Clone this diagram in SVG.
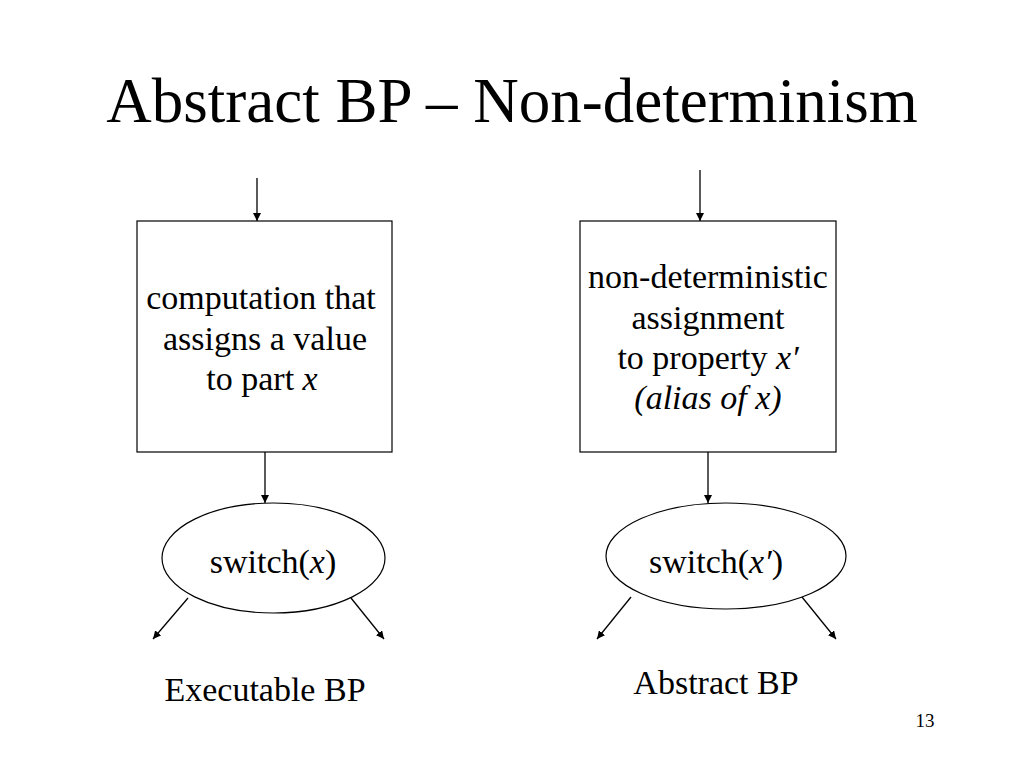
<svg xmlns="http://www.w3.org/2000/svg" width="1024" height="768" viewBox="0 0 1024 768">
<defs>
<marker id="ah" viewBox="0 0 10 10" refX="10" refY="5" markerWidth="8" markerHeight="8" markerUnits="userSpaceOnUse" orient="auto">
<path d="M0,0 L10,5 L0,10 z" fill="#000"/>
</marker>
<style>
text{font-family:"Liberation Serif","Times New Roman",serif;fill:#000;text-anchor:middle}
.t{font-size:34px}
.box{fill:#fff;stroke:#000;stroke-width:1.2}
.c{stroke:#000;stroke-width:1.3;fill:none;marker-end:url(#ah)}
</style>
</defs>
<rect width="1024" height="768" fill="#fff"/>
<text x="512" y="122" style="font-size:63px">Abstract BP – Non-determinism</text>
<g id="connectors">
<line class="c" x1="257" y1="178" x2="257" y2="221"/>
<line class="c" x1="265" y1="452" x2="265" y2="503"/>
<line class="c" x1="188" y1="598" x2="153" y2="639"/>
<line class="c" x1="351" y1="598" x2="384" y2="639"/>
<line class="c" x1="700" y1="170" x2="700" y2="221"/>
<line class="c" x1="708" y1="452" x2="708" y2="503"/>
<line class="c" x1="631" y1="597" x2="597" y2="639"/>
<line class="c" x1="802" y1="597" x2="836" y2="639"/>
</g>
<g id="box-left">
<rect class="box" x="137" y="221" width="255" height="231"/>
<text class="t" x="261" y="309">computation that</text>
<text class="t" x="265" y="350">assigns a value</text>
<text class="t" x="262" y="390">to part <tspan font-style="italic">x</tspan></text>
</g>
<g id="switch-left">
<ellipse class="box" cx="273.5" cy="558" rx="111.5" ry="55"/>
<text class="t" x="273" y="573">switch(<tspan font-style="italic">x</tspan>)</text>
</g>
<g id="box-right">
<rect class="box" x="580" y="221" width="256" height="231"/>
<text class="t" x="708" y="288">non-deterministic</text>
<text class="t" x="708" y="329">assignment</text>
<text class="t" x="708" y="369">to property <tspan font-style="italic">x′</tspan></text>
<text class="t" x="708" y="409" font-style="italic">(alias of x)</text>
</g>
<g id="switch-right">
<ellipse class="box" cx="726" cy="556" rx="120" ry="53"/>
<text class="t" x="716" y="573">switch(<tspan font-style="italic">x′</tspan>)</text>
</g>
<g id="labels">
<text class="t" x="265" y="701">Executable BP</text>
<text class="t" x="716" y="694">Abstract BP</text>
<text x="925" y="727" style="font-size:19px">13</text>
</g>
</svg>
